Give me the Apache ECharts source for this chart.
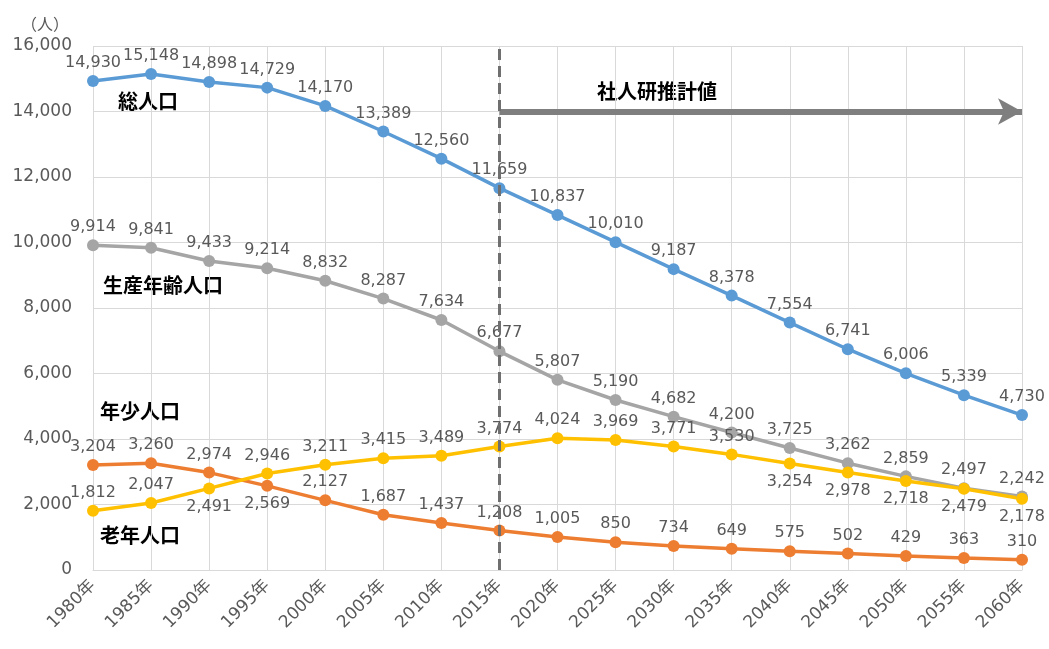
<!DOCTYPE html>
<html>
<head>
<meta charset="utf-8">
<script src="https://cdn.jsdelivr.net/npm/echarts@6/dist/echarts.min.js"></script>
<style>
  html, body { margin: 0; padding: 0; background: #fff; }
  #chart { width: 1049px; height: 649px; }
</style>
</head>
<body>
<div id="chart"></div>
<script>
// 人口推移（1980年〜2060年、2020年以降は社人研推計値）
const years = ['1980年','1985年','1990年','1995年','2000年','2005年','2010年','2015年','2020年',
  '2025年','2030年','2035年','2040年','2045年','2050年','2055年','2060年'];
const totalPop   = [14930,15148,14898,14729,14170,13389,12560,11659,10837,10010,9187,8378,7554,6741,6006,5339,4730];
const workingPop = [9914,9841,9433,9214,8832,8287,7634,6677,5807,5190,4682,4200,3725,3262,2859,2497,2242];
const youngPop   = [3204,3260,2974,2569,2127,1687,1437,1208,1005,850,734,649,575,502,429,363,310];
const elderPop   = [1812,2047,2491,2946,3211,3415,3489,3774,4024,3969,3771,3530,3254,2978,2718,2479,2178];
// 老年人口のラベルを下に置く年
const elderLabelBelow = ['1990年','2040年','2045年','2050年','2055年','2060年'];
// 年少人口のラベルを下に置く年
const youngLabelBelow = ['1995年'];
const yTicks = { min: 0, max: 16000, interval: 2000 };

const FONT = '"DejaVu Sans", "Noto Sans CJK JP", sans-serif';
const JP_BOLD = 'bold 20px "Noto Sans CJK JP", sans-serif';
const TXT = '#595959';

const chart = echarts.init(document.getElementById('chart'));

function labelled(values, belowYears) {
  return values.map((v, i) => {
    if (belowYears && belowYears.indexOf(years[i]) >= 0) {
      return { value: v, label: { position: 'bottom' } };
    }
    return v;
  });
}

function lineSeries(name, color, data, extra) {
  return Object.assign({
    name: name,
    type: 'line',
    data: data,
    symbol: 'circle',
    symbolSize: 12,
    lineStyle: { color: color, width: 3.5 },
    itemStyle: { color: color },
    label: {
      show: true,
      position: 'top',
      distance: 4,
      color: TXT,
      fontFamily: FONT,
      fontSize: 16,
      formatter: p => p.value.toLocaleString('en-US')
    },
    z: 3
  }, extra || {});
}

chart.setOption({
  animation: false,
  backgroundColor: '#fff',
  grid: { left: 93, right: 27, top: 46, bottom: 79 },
  xAxis: {
    type: 'category',
    data: years,
    boundaryGap: false,
    axisLine: { lineStyle: { color: '#d9d9d9' } },
    axisTick: { show: false },
    splitLine: { show: true, lineStyle: { color: '#d9d9d9' } },
    axisLabel: { rotate: 45, color: TXT, fontFamily: FONT, fontSize: 17, margin: 13 }
  },
  yAxis: {
    type: 'value',
    min: yTicks.min, max: yTicks.max, interval: yTicks.interval,
    name: '（人）',
    nameLocation: 'end',
    nameGap: 14,
    nameTextStyle: { color: TXT, fontFamily: '"Noto Sans CJK JP", sans-serif', fontSize: 16, align: 'right', padding: [0, 24, 0, 0] },
    axisLine: { show: false },
    axisTick: { show: false },
    splitLine: { lineStyle: { color: '#d9d9d9' } },
    axisLabel: {
      color: TXT, fontFamily: FONT, fontSize: 17, margin: 21,
      formatter: v => v.toLocaleString('en-US')
    }
  },
  series: [
    lineSeries('総人口', '#5B9BD5', totalPop, {
      markLine: {
        silent: true,
        symbol: ['none', 'arrow'],
        symbolSize: [20, 24],
        lineStyle: { color: '#7f7f7f', width: 6, type: 'solid' },
        label: { show: false },
        data: [[{ coord: ['2015年', 14000] }, { coord: ['2060年', 14000] }]]
      }
    }),
    lineSeries('生産年齢人口', '#A5A5A5', workingPop, {
      markLine: {
        silent: true,
        symbol: ['none', 'none'],
        lineStyle: { color: '#6f6f6f', width: 3, type: [11, 6] },
        label: { show: false },
        data: [{ xAxis: '2015年' }]
      }
    }),
    lineSeries('年少人口', '#ED7D31', labelled(youngPop, youngLabelBelow)),
    lineSeries('老年人口', '#FFC000', labelled(elderPop, elderLabelBelow))
  ],
  graphic: [
    { type: 'text', left: 597, top: 81, style: { text: '社人研推計値', fill: '#000', font: 'bold 20px "Noto Sans CJK JP", sans-serif' } },
    { type: 'text', left: 118, top: 91, style: { text: '総人口', fill: '#000', font: JP_BOLD } },
    { type: 'text', left: 103, top: 275, style: { text: '生産年齢人口', fill: '#000', font: JP_BOLD } },
    { type: 'text', left: 100, top: 401, style: { text: '年少人口', fill: '#000', font: JP_BOLD } },
    { type: 'text', left: 100, top: 525, style: { text: '老年人口', fill: '#000', font: JP_BOLD } }
  ]
});
</script>
</body>
</html>
